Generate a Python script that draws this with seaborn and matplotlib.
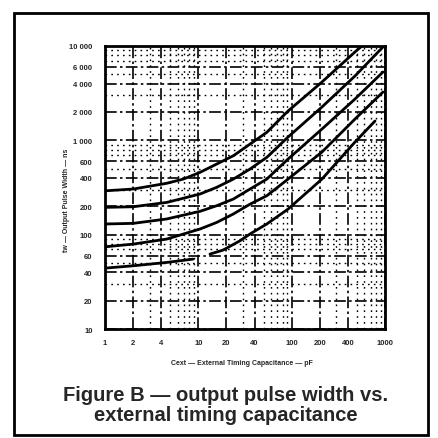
import matplotlib
matplotlib.use("Agg")
import matplotlib.pyplot as plt
import matplotlib.ticker as mticker
from matplotlib.patches import Rectangle
import pandas as pd
import seaborn as sns

# values: external capacitance (pF) vs output pulse width (ns)
cap_1 = [1, 2, 4.58, 6.9, 10.4, 15.7, 23.7, 35.8, 54.1, 91.4, 211, 477, 567]
width_1 = [292, 305, 351, 389, 458, 561, 687, 914, 1217, 2046, 4150, 8650, 10000]

cap_2 = [1, 2, 4.58, 10.4, 15.7, 23.7, 35.8, 54.1, 91.4, 211, 477, 952]
width_2 = [195, 198, 220, 270, 318, 389, 497, 661, 1085, 2256, 4810, 9770]

cap_3 = [1, 2, 4.58, 10.4, 15.7, 23.7, 35.8, 54.1, 91.4, 211, 477, 952]
width_3 = [130, 132, 147, 177, 203, 239, 305, 389, 634, 1318, 2742, 5300]

cap_4 = [1, 2, 4.58, 10.4, 15.7, 23.7, 35.8, 54.1, 91.4, 211, 477, 952]
width_4 = [74.5, 79.6, 90, 115, 135, 166, 211, 259, 389, 752, 1683, 3255]

# bottom curve has a break in the print around 9-13 pF
cap_5a = [1, 2, 4.58, 8.77]
width_5a = [44.3, 46.9, 50.9, 55.2]
cap_5b = [13.3, 18.4, 27.9, 35.8, 54.1, 91.4, 211, 477, 782]
width_5b = [62.4, 68.8, 86.3, 102, 130, 187, 389, 960, 1603]

x_ticks = [1, 2, 4, 10, 20, 40, 100, 200, 400, 1000]
y_ticks = [10, 20, 40, 60, 100, 200, 400, 600, 1000, 2000, 4000, 6000, 10000]

x_title = "Cext \u2014 External Timing Capacitance \u2014 pF"
y_title = "tw \u2014 Output Pulse Width \u2014 ns"
caption = "Figure B \u2014 output pulse width vs.\nexternal timing capacitance"

rows = []
for name, seg, xs, ys in [
    ("1", "a", cap_1, width_1),
    ("2", "a", cap_2, width_2),
    ("3", "a", cap_3, width_3),
    ("4", "a", cap_4, width_4),
    ("5", "a", cap_5a, width_5a),
    ("5", "b", cap_5b, width_5b),
]:
    for x, y in zip(xs, ys):
        rows.append({"cap": x, "width": y, "curve": name, "seg": name + seg})
df = pd.DataFrame(rows)

sns.set_theme(style="white")
plt.rcParams["font.family"] = ["Liberation Sans", "DejaVu Sans"]

fig = plt.figure(figsize=(4.38, 4.39), dpi=100)
ax = fig.add_axes([0.240, 0.248, 0.639, 0.645])

sns.lineplot(
    data=df, x="cap", y="width", hue="curve", units="seg", estimator=None,
    palette=["black"] * 5, linewidth=2.0, legend=False, sort=False, ax=ax,
)

ax.set_xscale("log")
ax.set_yscale("log")
ax.set_xlim(1, 1000)
ax.set_ylim(10, 10000)

ax.xaxis.set_major_locator(mticker.FixedLocator(x_ticks))
ax.xaxis.set_major_formatter(mticker.FixedFormatter([str(v) for v in x_ticks]))
ax.yaxis.set_major_locator(mticker.FixedLocator(y_ticks))
ax.yaxis.set_major_formatter(
    mticker.FixedFormatter([f"{v:,}".replace(",", " ") for v in y_ticks])
)
ax.xaxis.set_minor_locator(mticker.LogLocator(base=10, subs=(3, 5, 6, 7, 8, 9)))
ax.yaxis.set_minor_locator(mticker.LogLocator(base=10, subs=(3, 5, 7, 8, 9)))
ax.xaxis.set_minor_formatter(mticker.NullFormatter())
ax.yaxis.set_minor_formatter(mticker.NullFormatter())

ax.grid(which="major", color="black", linewidth=1.2, linestyle=(0, (7, 2, 1.5, 2)))
ax.grid(which="minor", color="black", linewidth=1.0, linestyle=(0, (1.2, 3)))
ax.set_axisbelow(True)

ax.tick_params(axis="both", which="both", length=0)
ax.tick_params(axis="y", labelsize=5.5, pad=9)
ax.tick_params(axis="x", labelsize=5.5, pad=7)
for lab in ax.get_xticklabels() + ax.get_yticklabels():
    lab.set_fontweight("bold")

for s in ax.spines.values():
    s.set_color("black")
    s.set_linewidth(2.0)

ax.set_xlabel(x_title, fontsize=5, fontweight="bold")
ax.set_ylabel(y_title, fontsize=5, fontweight="bold")
ax.xaxis.set_label_coords(0.49, -0.106)
ax.yaxis.set_label_coords(-0.125, 0.46)

fig.text(0.515, 0.076, caption, ha="center", va="center", fontsize=14.5,
         fontweight="bold", linespacing=1.05)

fig.patches.append(Rectangle((0.033, 0.006), 0.944, 0.962, transform=fig.transFigure,
                             fill=False, edgecolor="black", linewidth=2.0))

fig.savefig("out.png", dpi=100)
